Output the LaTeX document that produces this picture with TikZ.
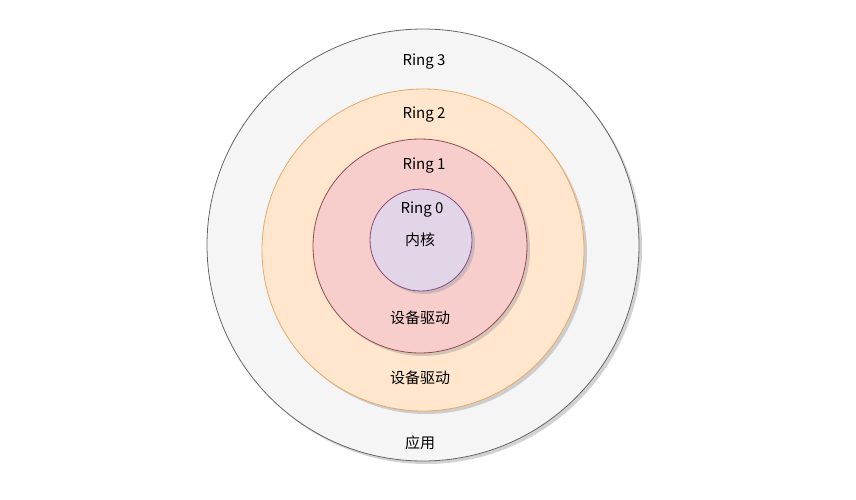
\documentclass[tikz,border=0pt]{standalone}
\usepackage{fontspec}
\setmainfont{Noto Sans CJK SC}
\usetikzlibrary{shadows}
\definecolor{ringthree}{HTML}{F5F5F5}
\definecolor{ringtwo}{HTML}{FFE6CC}
\definecolor{ringone}{HTML}{F8CECC}
\definecolor{ringzero}{HTML}{E1D5E7}

\begin{document}
\begin{tikzpicture}[x=1pt,y=-1pt,
    ring/.style={circle,inner sep=0pt,line width=0.8pt,
      drop shadow={shadow xshift=3pt,shadow yshift=-3pt,fill=black!35}},
    lbl/.style={font=\fontsize{15}{18}\selectfont}]
                % Canvas
                \useasboundingbox (0,0) rectangle (856,500);
                
                % Rings
                \node[ring,draw=black!60,fill=ringthree,minimum size=432pt] (r3) at (423,245) {};
                \node[ring,draw=black!15!ringtwo!60!orange,fill=ringtwo,minimum size=322pt] (r2) at (423,250) {};
                \node[ring,draw=red!40!black!70,fill=ringone,minimum size=214pt] (r1) at (420,246) {};
                \node[ring,draw=violet!60!black!70,fill=ringzero,minimum size=102pt] (r0) at (421,240) {};
                
                % Labels
                \node[lbl] (t3) at (424,62) {Ring 3};
                \node[lbl] (t2) at (424,115) {Ring 2};
                \node[lbl] (t1) at (424,166) {Ring 1};
                \node[lbl] (t0) at (422,210) {Ring 0};
                \node[lbl] (k) at (420,240) {内核};
                \node[lbl] (d1) at (420,318) {设备驱动};
                \node[lbl] (d2) at (420,378) {设备驱动};
                \node[lbl] (app) at (420,443) {应用};
            \end{tikzpicture}
\end{document}
